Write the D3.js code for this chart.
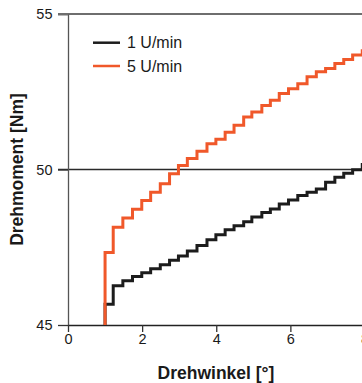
<!DOCTYPE html>
<html>
<head>
<meta charset="utf-8">
<script src="https://cdn.jsdelivr.net/npm/d3@7"></script>
<style>
  body { margin: 0; background: #fff; }
  svg { display: block; font-family: "Liberation Sans", Arial, sans-serif; }
</style>
</head>
<body>
<div id="chart"></div>
<script>
// Drehwinkel der Stufen (Grad)
var winkel = [1.22, 1.48, 1.74, 1.99, 2.23, 2.49, 2.74, 2.98, 3.22, 3.48, 3.75, 3.99, 4.24, 4.48,
              4.74, 4.96, 5.23, 5.46, 5.70, 5.95, 6.20, 6.45, 6.70, 6.95, 7.20, 7.44, 7.68, 7.94];
// Drehmoment nach jeder Stufe (Nm)
var moment1 = [46.26, 46.42, 46.56, 46.68, 46.81, 46.94, 47.08, 47.22, 47.38, 47.56, 47.74, 47.90, 48.06, 48.19,
               48.32, 48.47, 48.62, 48.73, 48.89, 49.02, 49.16, 49.27, 49.37, 49.59, 49.75, 49.88, 49.99, 50.16];
var moment5 = [48.14, 48.44, 48.72, 49.00, 49.27, 49.54, 49.86, 50.13, 50.35, 50.59, 50.83, 50.97, 51.20, 51.42,
               51.69, 51.85, 52.06, 52.23, 52.44, 52.60, 52.76, 52.98, 53.14, 53.25, 53.41, 53.54, 53.68, 53.82];
var startWinkel = 1.0;
var startMoment1 = 45.67;
var startMoment5 = 47.33;
var serienNamen = ["1 U/min", "5 U/min"];
var xTicks = [0, 2, 4, 6, 8];
var yTicks = [45, 50, 55];

var width = 362, height = 383;
var margin = {top: 14, left: 68, bottom: 58};

var x = d3.scaleLinear().domain([0, 8]).range([margin.left, 364.5]);
var y = d3.scaleLinear().domain([45, 55]).range([height - margin.bottom, margin.top]);

var svg = d3.select("#chart").append("svg")
    .attr("width", width).attr("height", height);

// Treppenkurve aus Startwert + Stufen bauen
function serie(start, werte){
    var pts = [{x: startWinkel, y: 45}, {x: startWinkel, y: start}];
    winkel.forEach(function(w, i){ pts.push({x: w, y: werte[i]}); });
    pts.push({x: 8, y: werte[werte.length - 1]});
    return pts;
}
var daten = [
    {name: serienNamen[0], farbe: "#1c1c1c", pts: serie(startMoment1, moment1)},
    {name: serienNamen[1], farbe: "#f0582a", pts: serie(startMoment5, moment5)}
];

// Linien bei 50 und 55
svg.append("line")
    .attr("x1", margin.left - 10).attr("x2", width)
    .attr("y1", y(50)).attr("y2", y(50))
    .attr("stroke", "#2a2a2a").attr("stroke-width", 1.3);
svg.append("line")
    .attr("x1", margin.left - 10).attr("x2", width)
    .attr("y1", y(55)).attr("y2", y(55))
    .attr("stroke", "#6e6e6e").attr("stroke-width", 2);

// y-Achse
var yAxis = svg.append("g")
    .attr("transform", "translate(" + margin.left + ",0)")
    .call(d3.axisLeft(y).tickValues(yTicks).tickSize(10).tickSizeOuter(0).tickPadding(5.5));
yAxis.select(".domain").attr("stroke", "#555").attr("stroke-width", 1.3);
yAxis.selectAll(".tick line").attr("stroke", "#333").attr("stroke-width", 1.3);
yAxis.selectAll("text").attr("font-size", "14.5px").attr("fill", "#1a1a1a")
    .attr("font-family", "Liberation Sans, Arial, sans-serif");
yAxis.selectAll(".tick").filter(function(d){ return d === 55; }).select("line")
    .attr("stroke", "#6e6e6e").attr("stroke-width", 2);

// x-Achse
var xAxis = svg.append("g")
    .attr("transform", "translate(0," + y(45) + ")")
    .call(d3.axisBottom(x).tickValues(xTicks).tickSize(7).tickSizeOuter(0).tickPadding(1.5));
xAxis.select(".domain").attr("stroke", "#222").attr("stroke-width", 1.5);
xAxis.selectAll(".tick line").attr("stroke", "#333").attr("stroke-width", 1.3);
xAxis.selectAll("text").attr("font-size", "14.5px").attr("fill", "#1a1a1a")
    .attr("font-family", "Liberation Sans, Arial, sans-serif");

// Kurven
var line = d3.line()
    .x(function(d){ return x(d.x); })
    .y(function(d){ return y(d.y); })
    .curve(d3.curveStepAfter);

svg.append("g").selectAll("path")
    .data(daten).enter().append("path")
    .attr("d", function(d){ return line(d.pts); })
    .attr("fill", "none")
    .attr("stroke", function(d){ return d.farbe; })
    .attr("stroke-width", 3)
    .attr("stroke-linejoin", "miter");

// Legende
var leg = svg.append("g").selectAll("g")
    .data(daten).enter().append("g")
    .attr("transform", function(d, i){ return "translate(93," + (42.7 + i * 23.3) + ")"; });
leg.append("line")
    .attr("x1", 0).attr("x2", 27)
    .attr("stroke", function(d){ return d.farbe; })
    .attr("stroke-width", 2.5);
leg.append("text")
    .attr("x", 34).attr("y", 5.5)
    .attr("font-size", "16px").attr("fill", "#1a1a1a")
    .text(function(d){ return d.name; });

// Achsentitel
svg.append("text")
    .attr("x", 216).attr("y", 379)
    .attr("text-anchor", "middle")
    .attr("font-size", "17.5px").attr("font-weight", "bold").attr("fill", "#1a1a1a")
    .text("Drehwinkel [°]");
svg.append("text")
    .attr("transform", "translate(23," + y(50) + ") rotate(-90)")
    .attr("text-anchor", "middle")
    .attr("font-size", "17.5px").attr("font-weight", "bold").attr("fill", "#1a1a1a")
    .text("Drehmoment [Nm]");
</script>
</body>
</html>
